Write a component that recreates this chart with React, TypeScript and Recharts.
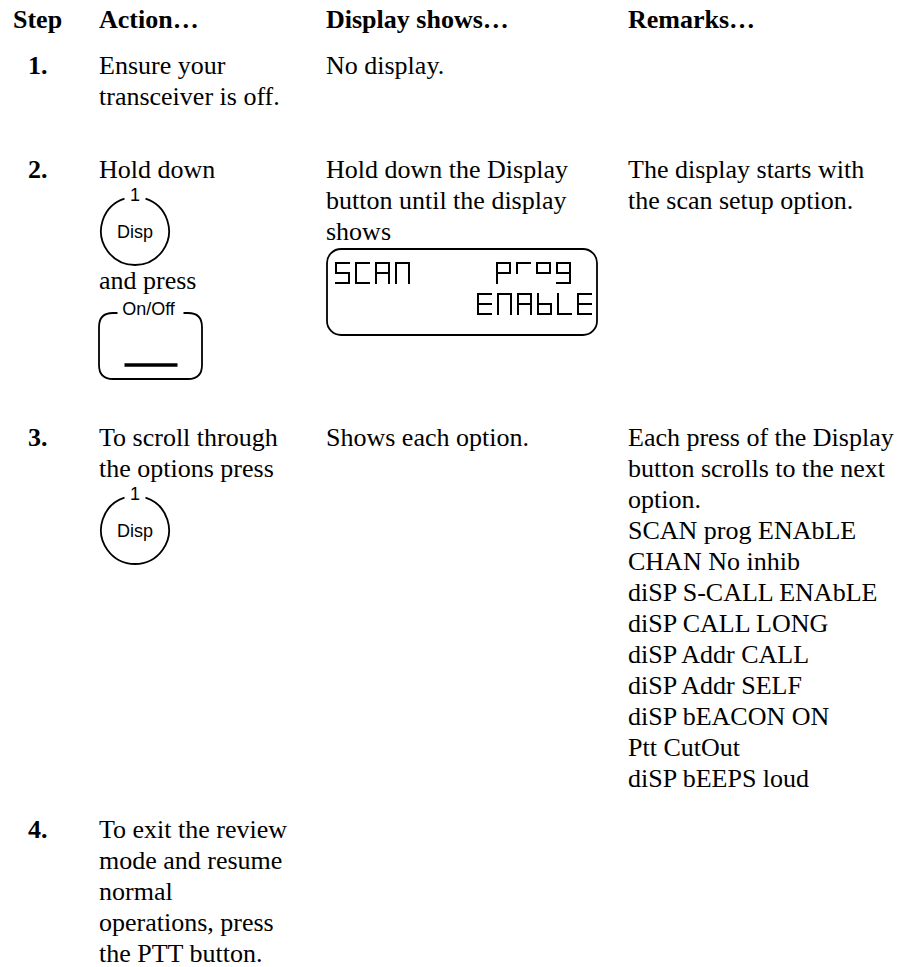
import React from 'react'
import { ScatterChart, Scatter, XAxis, YAxis } from 'recharts'

const W = 905
const H = 967

// table content
const headers = ['Step', 'Action…', 'Display shows…', 'Remarks…']
const stepNumbers = ['1.', '2.', '3.', '4.']

// a cell is a list of text lines and drawn widgets (#disp, #onoff, #lcd)
const actionCells = [
  ['Ensure your', 'transceiver is off.'],
  ['Hold down', '#disp', 'and press', '#onoff'],
  ['To scroll through', 'the options press', '#disp'],
  ['To exit the review', 'mode and resume', 'normal', 'operations, press', 'the PTT button.'],
]
const displayCells = [
  ['No display.'],
  ['Hold down the Display', 'button until the display', 'shows', '#lcd'],
  ['Shows each option.'],
  [],
]
const scanOptions = [
  'SCAN prog ENAbLE',
  'CHAN No inhib',
  'diSP S-CALL ENAbLE',
  'diSP CALL LONG',
  'diSP Addr CALL',
  'diSP Addr SELF',
  'diSP bEACON ON',
  'Ptt CutOut',
  'diSP bEEPS loud',
]
const remarkCells = [
  [],
  ['The display starts with', 'the scan setup option.'],
  ['Each press of the Display', 'button scrolls to the next', 'option.', ...scanOptions],
  [],
]
const lcdLeft = 'SCAN'
const lcdRight = 'prog'
const lcdBottom = 'ENAbLE'

// layout
const colX = [13, 99, 326, 628]
const stepX = 28
const headerBase = 28
const rowBase = [74, 178, 446, 838]
const LINE = 31
const FONT = '"Liberation Serif", "Times New Roman", serif'
const SANS = '"Liberation Sans", Arial, sans-serif'

// 7-segment maps
const SEG: Record<string, string> = {
  S: 'afgcd', C: 'afed', A: 'abcefg', N: 'abcef', E: 'adefg',
  b: 'cdefg', L: 'def', p: 'abefg', r: 'af', o: 'abfg', g: 'abcdfg',
}

function buildPoints() {
  const text: any[] = []
  const disp: any[] = []
  const onoff: any[] = []
  const lcd: any[] = []
  headers.forEach((h, i) => text.push({ x: colX[i], y: headerBase, label: h, bold: true }))
  stepNumbers.forEach((s, i) => text.push({ x: stepX, y: rowBase[i], label: s, bold: true }))
  const place = (cells: string[][], col: number) => {
    cells.forEach((cell, r) => {
      let y = rowBase[r]
      cell.forEach((item) => {
        if (item === '#disp') {
          disp.push({ x: colX[col] + 36, y: y + 22 })
          y += 80
        } else if (item === '#onoff') {
          onoff.push({ x: colX[col], y: y - 7 })
          y += 80
        } else if (item === '#lcd') {
          lcd.push({ x: colX[col] + 1, y: y - LINE + 9 })
          y += 100
        } else {
          text.push({ x: colX[col], y, label: item })
          y += LINE
        }
      })
    })
  }
  place(actionCells, 1)
  place(displayCells, 2)
  place(remarkCells, 3)
  return { text, disp, onoff, lcd }
}

const TextShape = (props: any) => {
  const { cx, cy, payload } = props
  return (
    <text x={cx} y={cy} fontFamily={FONT} fontSize={26} fontWeight={payload.bold ? 700 : 400} fill="#000">
      {payload.label}
    </text>
  )
}

const DispShape = (props: any) => {
  const { cx, cy } = props
  const r = 34
  const a1 = (-72 * Math.PI) / 180
  const a2 = (-108 * Math.PI) / 180
  const d = `M ${cx + r * Math.cos(a1)} ${cy + r * Math.sin(a1)} A ${r} ${r} 0 1 1 ${cx + r * Math.cos(a2)} ${cy + r * Math.sin(a2)}`
  return (
    <g>
      <path d={d} fill="none" stroke="#000" strokeWidth={1.8} />
      <text x={cx} y={cy - r + 4} textAnchor="middle" fontFamily={SANS} fontSize={18}>1</text>
      <text x={cx} y={cy + 6.5} textAnchor="middle" fontFamily={SANS} fontSize={18}>Disp</text>
    </g>
  )
}

const OnOffShape = (props: any) => {
  const { cx, cy } = props
  const w = 103
  const h = 66
  const r = 14
  const gap = 33
  const L = cx, R = cx + w, T = cy, B = cy + h, M = cx + w / 2
  const d = `M ${M - gap} ${T} L ${L + r} ${T} Q ${L} ${T} ${L} ${T + r} L ${L} ${B - r} Q ${L} ${B} ${L + r} ${B} L ${R - r} ${B} Q ${R} ${B} ${R} ${B - r} L ${R} ${T + r} Q ${R} ${T} ${R - r} ${T} L ${M + gap} ${T}`
  return (
    <g>
      <path d={d} fill="none" stroke="#000" strokeWidth={1.8} />
      <text x={M - 2} y={T + 1.5} textAnchor="middle" fontFamily={SANS} fontSize={18}>On/Off</text>
      <line x1={M - 26} x2={M + 27} y1={T + 52} y2={T + 52} stroke="#000" strokeWidth={3.5} />
    </g>
  )
}

function segChars(str: string, x0: number, y0: number, cw: number, ch: number, pitch: number) {
  const out: React.ReactNode[] = []
  str.split('').forEach((c, i) => {
    const x = x0 + i * pitch
    const m = ch / 2
    const segs = SEG[c] || ''
    const lines: Record<string, number[]> = {
      a: [x, y0, x + cw, y0], b: [x + cw, y0, x + cw, y0 + m], c: [x + cw, y0 + m, x + cw, y0 + ch],
      d: [x, y0 + ch, x + cw, y0 + ch], e: [x, y0 + m, x, y0 + ch], f: [x, y0, x, y0 + m], g: [x, y0 + m, x + cw, y0 + m],
    }
    segs.split('').forEach((s) => {
      const [x1, y1, x2, y2] = lines[s]
      out.push(<line key={`${str}${i}${s}`} x1={x1} y1={y1} x2={x2} y2={y2} stroke="#000" strokeWidth={2} strokeLinecap="square" />)
    })
  })
  return out
}

const LcdShape = (props: any) => {
  const { cx, cy } = props
  const w = 270
  const h = 86
  const cw = 13, ch = 20, pitch = 20
  return (
    <g>
      <rect x={cx} y={cy} width={w} height={h} rx={14} ry={14} fill="none" stroke="#000" strokeWidth={1.8} />
      {segChars(lcdLeft, cx + 9, cy + 14, cw, ch, pitch)}
      {segChars(lcdRight, cx + 170, cy + 14, cw, ch, pitch)}
      {segChars(lcdBottom, cx + 151, cy + 45, cw, ch, pitch)}
    </g>
  )
}

export default function App() {
  const { text, disp, onoff, lcd } = buildPoints()
  return (
    <div style={{ position: 'absolute', left: 0, top: 0, width: W, height: H, background: '#fff' }}>
      <ScatterChart width={W} height={H} margin={{ top: 0, right: 0, bottom: 0, left: 0 }}>
        <XAxis type="number" dataKey="x" domain={[0, W]} hide allowDataOverflow />
        <YAxis type="number" dataKey="y" domain={[0, H]} reversed hide allowDataOverflow />
        <Scatter data={text} shape={<TextShape />} isAnimationActive={false} />
        <Scatter data={disp} shape={<DispShape />} isAnimationActive={false} />
        <Scatter data={onoff} shape={<OnOffShape />} isAnimationActive={false} />
        <Scatter data={lcd} shape={<LcdShape />} isAnimationActive={false} />
      </ScatterChart>
    </div>
  )
}
